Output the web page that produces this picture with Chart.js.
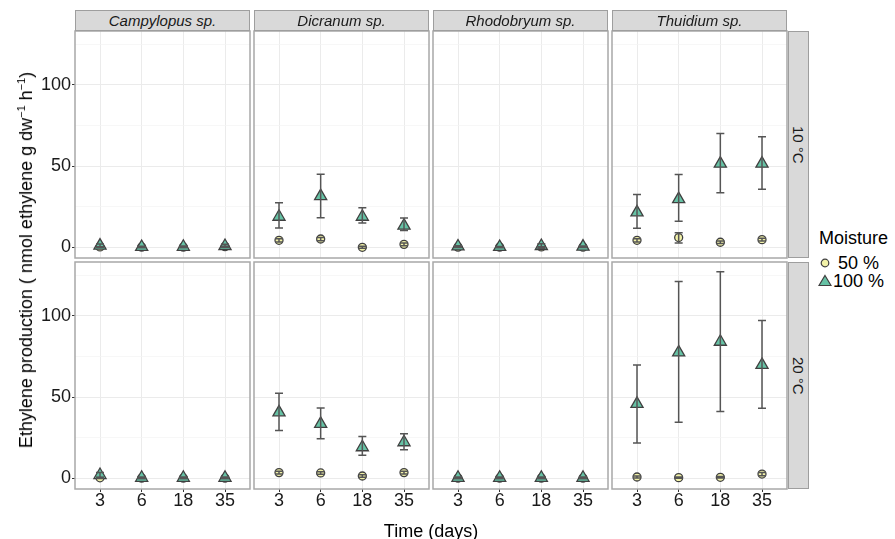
<!DOCTYPE html>
<html>
<head>
<meta charset="utf-8">
<script src="https://cdn.jsdelivr.net/npm/chart.js@4.4.1/dist/chart.umd.min.js"></script>
<style>
  html, body { margin: 0; padding: 0; background: #fff; }
  #wrap { position: relative; width: 895px; height: 539px; overflow: hidden; background: #fff;
          font-family: "Liberation Sans", Arial, Helvetica, sans-serif; color: #1a1a1a; }
  canvas { position: absolute; }
  .stripTop { position: absolute; box-sizing: border-box; background: #d9d9d9; border: 1px solid #9e9e9e;
              font-style: italic; font-size: 15px; text-align: center; line-height: 19px; }
  .stripRight { position: absolute; box-sizing: border-box; background: #d9d9d9; border: 1px solid #9e9e9e;
                font-size: 15px; display: flex; align-items: center; justify-content: center; }
  .stripRight span { writing-mode: vertical-rl; }
  .txt { position: absolute; white-space: pre; }
</style>
</head>
<body>
<div id="wrap"></div>
<script>
// ---------------- data ----------------
const timeLabels = ['3', '6', '18', '35'];
const species = ['Campylopus sp.', 'Dicranum sp.', 'Rhodobryum sp.', 'Thuidium sp.'];
const temps = ['10 °C', '20 °C'];
const moistureLabels = [' 50 %', '100 %'];
const yTickValues = [0, 50, 100];
const yMinorValues = [25, 75, 125];

// 10 °C, 100 % moisture (rows: Campylopus, Dicranum, Rhodobryum, Thuidium)
const mean100_10 = [[1.0, 0.2, 0.3, 0.8], [18.8, 31.5, 18.8, 13.3], [0.5, 0.2, 0.8, 0.4], [21.5, 29.7, 51.5, 51.5]];
const lo100_10   = [[0.2, -0.2, -0.2, 0.0], [11.8, 18.2, 14.9, 10.4], [0.0, -0.1, -0.6, 0.0], [11.7, 16.1, 33.6, 35.8]];
const hi100_10   = [[2.0, 0.7, 0.8, 1.8], [27.4, 45.0, 24.3, 18.0], [1.0, 0.5, 2.2, 0.8], [32.5, 44.8, 70.0, 68.0]];
// 10 °C, 50 % moisture
const mean50_10 = [[0.2, 0.1, 0.1, 0.4], [4.3, 5.1, 0.0, 1.8], [0.1, 0.1, 0.2, 0.1], [4.3, 6.0, 3.1, 4.7]];
const lo50_10   = [[0.0, -0.1, -0.1, 0.1], [3.3, 4.1, -0.6, 1.0], [-0.1, -0.1, 0.0, -0.1], [3.3, 2.6, 2.3, 3.9]];
const hi50_10   = [[0.4, 0.3, 0.3, 0.7], [5.3, 6.1, 0.6, 2.6], [0.3, 0.3, 0.4, 0.3], [5.3, 9.0, 3.9, 5.5]];
// 20 °C, 100 % moisture
const mean100_20 = [[2.0, 0.3, 0.3, 0.3], [40.6, 33.5, 19.1, 22.2], [0.3, 0.3, 0.3, 0.3], [45.8, 77.5, 84.1, 69.8]];
const lo100_20   = [[0.5, -0.2, -0.2, -0.2], [29.5, 24.4, 14.2, 17.6], [-0.2, -0.2, -0.2, -0.2], [21.7, 34.5, 41.2, 43.1]];
const hi100_20   = [[3.5, 0.8, 0.8, 0.8], [52.3, 43.3, 25.8, 27.5], [0.8, 0.8, 0.8, 0.8], [69.7, 121.2, 127.2, 97.2]];
// 20 °C, 50 % moisture
const mean50_20 = [[0.3, 0.1, 0.1, 0.1], [3.5, 3.3, 1.4, 3.5], [0.1, 0.1, 0.1, 0.1], [0.8, 0.4, 0.6, 2.6]];
const lo50_20   = [[0.0, -0.1, -0.1, -0.1], [2.7, 2.5, 0.6, 2.7], [-0.1, -0.1, -0.1, -0.1], [0.2, 0.0, 0.1, 1.6]];
const hi50_20   = [[0.6, 0.3, 0.3, 0.3], [4.3, 4.1, 2.2, 4.3], [0.3, 0.3, 0.3, 0.3], [1.4, 0.8, 1.1, 3.6]];

// ---------------- layout / style ----------------
const colLeft = [75, 254, 433, 612];
const rowTop = [31, 262];
const panelW = 175, panelH = 227;
const pad = 3;
const yAxisW = 72, xAxisH = 40;
const yMin = -6.6, yMax = 133.2;
const triFill = '#66c2a5', circFill = '#f2f2a8', markerStroke = '#404040';
const errColor = '#555555';
const tickFont = { family: '"Liberation Sans", Arial, sans-serif', size: 18, lineHeight: 1 };
const tickColor = '#1a1a1a';

const wrap = document.getElementById('wrap');

const errorBarPlugin = {
  id: 'errorBars',
  afterDatasetsDraw(chart) {
    const { ctx } = chart;
    const xs = chart.scales.x, ys = chart.scales.y;
    ctx.save();
    ctx.strokeStyle = errColor;
    ctx.lineWidth = 1.5;
    const w = 4;
    chart.data.datasets.forEach(ds => {
      if (!ds.errLo) return;
      ds.data.forEach((p, j) => {
        const px = xs.getPixelForValue(p.x);
        const yl = ys.getPixelForValue(ds.errLo[j]);
        const yh = ys.getPixelForValue(ds.errHi[j]);
        ctx.beginPath();
        ctx.moveTo(px, yl); ctx.lineTo(px, yh);
        ctx.moveTo(px - w, yl); ctx.lineTo(px + w, yl);
        ctx.moveTo(px - w, yh); ctx.lineTo(px + w, yh);
        ctx.stroke();
      });
    });
    ctx.restore();
  }
};

const borderPlugin = {
  id: 'panelBorder',
  afterDraw(chart) {
    const { ctx, chartArea: a } = chart;
    ctx.save();
    ctx.strokeStyle = '#a8a8a8';
    ctx.lineWidth = 1.5;
    ctx.strokeRect(a.left, a.top, a.right - a.left, a.bottom - a.top);
    ctx.restore();
  }
};

const isMajor = v => yTickValues.includes(v);

function zeroPad(s) { s.paddingLeft = 0; s.paddingRight = 0; s.paddingTop = 0; s.paddingBottom = 0; }

function makePanel(r, c) {
  const leftCol = c === 0, bottomRow = r === 1;
  const yW = leftCol ? yAxisW : 0;
  const xH = bottomRow ? xAxisH : 0;
  const cv = document.createElement('canvas');
  const W = pad + yW + panelW + pad, H = pad + panelH + xH + pad;
  cv.width = W; cv.height = H;
  cv.style.width = W + 'px'; cv.style.height = H + 'px';
  cv.style.left = (colLeft[c] - yW - pad) + 'px';
  cv.style.top = (rowTop[r] - pad) + 'px';
  wrap.appendChild(cv);

  const m100 = r === 0 ? mean100_10 : mean100_20;
  const l100 = r === 0 ? lo100_10 : lo100_20;
  const h100 = r === 0 ? hi100_10 : hi100_20;
  const m50 = r === 0 ? mean50_10 : mean50_20;
  const l50 = r === 0 ? lo50_10 : lo50_20;
  const h50 = r === 0 ? hi50_10 : hi50_20;

  new Chart(cv, {
    type: 'scatter',
    data: {
      datasets: [
        {
          label: moistureLabels[1],
          data: m100[c].map((v, i) => ({ x: i + 1, y: v })),
          errLo: l100[c], errHi: h100[c],
          pointStyle: 'triangle', pointRadius: 7, pointHoverRadius: 7,
          backgroundColor: triFill, borderColor: markerStroke, borderWidth: 1.3
        },
        {
          label: moistureLabels[0],
          data: m50[c].map((v, i) => ({ x: i + 1, y: v })),
          errLo: l50[c], errHi: h50[c],
          pointStyle: 'circle', pointRadius: 4, pointHoverRadius: 4,
          backgroundColor: circFill, borderColor: markerStroke, borderWidth: 1.3
        }
      ]
    },
    options: {
      responsive: false,
      animation: false,
      devicePixelRatio: 1,
      layout: { autoPadding: false, padding: { left: pad, right: pad, top: pad, bottom: pad } },
      plugins: { legend: { display: false }, tooltip: { enabled: false } },
      events: [],
      scales: {
        x: {
          type: 'linear', min: 0.4, max: 4.6,
          afterBuildTicks: s => { s.ticks = timeLabels.map((_, i) => ({ value: i + 1 })); },
          ticks: {
            display: bottomRow, autoSkip: false, maxRotation: 0, padding: 0,
            font: tickFont, color: tickColor,
            callback: (v, i) => timeLabels[i]
          },
          grid: { color: '#ebebeb', lineWidth: 1, drawTicks: bottomRow, tickLength: 3, tickColor: '#333' },
          border: { display: false },
          afterFit: s => { s.height = xH; zeroPad(s); }
        },
        y: {
          type: 'linear', min: yMin, max: yMax,
          afterBuildTicks: s => {
            s.ticks = yTickValues.concat(yMinorValues).sort((a, b) => a - b).map(v => ({ value: v }));
          },
          ticks: {
            display: leftCol, autoSkip: false, padding: 1,
            font: tickFont, color: tickColor,
            callback: v => isMajor(v) ? String(v) : ''
          },
          grid: {
            color: ctx => (ctx.tick && isMajor(ctx.tick.value)) ? '#ebebeb' : '#f4f4f4',
            lineWidth: ctx => (ctx.tick && isMajor(ctx.tick.value)) ? 1 : 0.7,
            drawTicks: leftCol, tickLength: 3,
            tickColor: ctx => (ctx.tick && isMajor(ctx.tick.value)) ? '#333' : 'rgba(0,0,0,0)'
          },
          border: { display: false },
          afterFit: s => { s.width = yW; zeroPad(s); }
        }
      }
    },
    plugins: [errorBarPlugin, borderPlugin]
  });
}

for (let r = 0; r < 2; r++) for (let c = 0; c < 4; c++) makePanel(r, c);

// strips
species.forEach((name, c) => {
  const d = document.createElement('div');
  d.className = 'stripTop';
  d.style.left = colLeft[c] + 'px'; d.style.top = '10px';
  d.style.width = panelW + 'px'; d.style.height = '21px';
  d.textContent = name;
  wrap.appendChild(d);
});
temps.forEach((t, r) => {
  const d = document.createElement('div');
  d.className = 'stripRight';
  d.style.left = (colLeft[3] + panelW + 1) + 'px'; d.style.top = rowTop[r] + 'px';
  d.style.width = '21px'; d.style.height = panelH + 'px';
  const s = document.createElement('span'); s.textContent = t; d.appendChild(s);
  wrap.appendChild(d);
});

// axis titles
const yt = document.createElement('div');
yt.className = 'txt';
yt.style.cssText += 'left:26px;top:260px;font-size:18px;color:#000;transform:translate(-50%,-50%) rotate(-90deg);';
yt.innerHTML = 'Ethylene production ( nmol ethylene g dw<sup style="font-size:11px">−1</sup> h<sup style="font-size:11px">−1</sup>)';
wrap.appendChild(yt);

const xt = document.createElement('div');
xt.className = 'txt';
xt.style.cssText += 'left:431px;top:531px;font-size:18px;color:#000;transform:translate(-50%,-50%);';
xt.textContent = 'Time (days)';
wrap.appendChild(xt);

// legend
const lg = document.createElement('div');
lg.className = 'txt';
lg.style.cssText += 'left:819px;top:228px;font-size:18px;color:#000;line-height:20px;';
lg.textContent = 'Moisture';
wrap.appendChild(lg);

function legendItem(y, svg, label) {
  const m = document.createElement('div');
  m.className = 'txt';
  m.style.cssText += `left:818px;top:${y - 7}px;width:14px;height:14px;`;
  m.innerHTML = svg;
  wrap.appendChild(m);
  const t = document.createElement('div');
  t.className = 'txt';
  t.style.cssText += `left:833px;top:${y - 10}px;font-size:18px;color:#000;line-height:20px;`;
  t.textContent = label;
  wrap.appendChild(t);
}
legendItem(263, `<svg width="14" height="14"><circle cx="7" cy="7" r="3.8" fill="${circFill}" stroke="${markerStroke}" stroke-width="1.2"/></svg>`, moistureLabels[0]);
legendItem(281, `<svg width="14" height="14"><polygon points="7,1.5 13,11.5 1,11.5" fill="${triFill}" stroke="${markerStroke}" stroke-width="1.2"/></svg>`, moistureLabels[1]);
</script>
</body>
</html>
